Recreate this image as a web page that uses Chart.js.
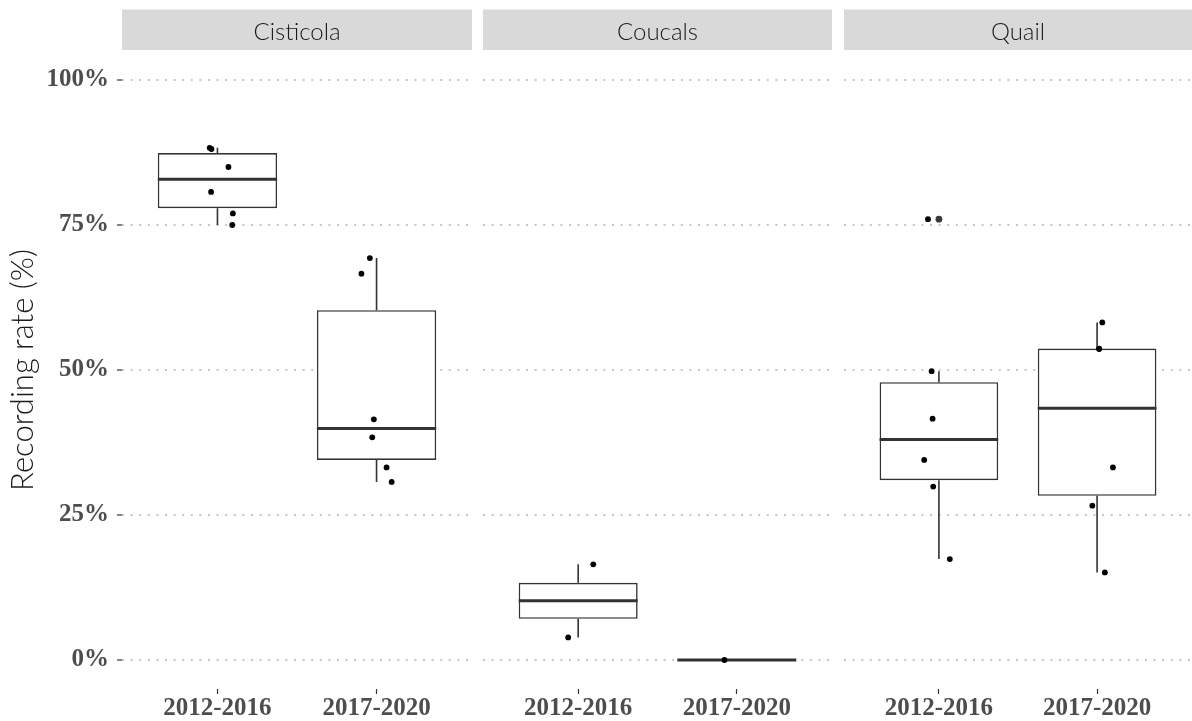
<!DOCTYPE html>
<html><head><meta charset="utf-8">
<script src="https://cdn.jsdelivr.net/npm/chart.js@4.4.1/dist/chart.umd.min.js"></script>
<style>
html,body{margin:0;padding:0;background:#fff;}
#wrap{position:relative;width:1192px;height:721px;overflow:hidden;background:#fff;}
canvas{position:absolute;top:0;}
</style></head><body>
<div id="wrap">
<canvas id="c0" width="472" height="721" style="left:0px"></canvas>
<canvas id="c1" width="349" height="721" style="left:483px"></canvas>
<canvas id="c2" width="348" height="721" style="left:844px"></canvas>
</div>
<script>
// ---- data ----
const panels = ['Cisticola', 'Coucals', 'Quail'];
const periods = ['2012-2016', '2017-2020'];
const yTicks = [0, 25, 50, 75, 100];

// observed recording rates (%) per period
const valsCisticola = [[88.3, 88.1, 85.0, 80.7, 77.0, 75.0], [69.3, 66.6, 41.5, 38.4, 33.2, 30.7]];
const jitCisticola  = [[-0.049, -0.038, 0.069, -0.040, 0.097, 0.093], [-0.042, -0.095, -0.017, -0.027, 0.063, 0.095]];
// [lower whisker, Q1, median, Q3, upper whisker]
const boxCisticola  = [[75.0, 77.9, 82.9, 87.4, 88.3], [30.7, 34.5, 39.9, 60.3, 69.3]];
const outCisticola  = [[], []];

const valsCoucals = [[16.5, 3.9], [0]];
const jitCoucals  = [[0.095, -0.063], [-0.078]];
const boxCoucals  = [[3.9, 7.1, 10.2, 13.3, 16.5], [0, 0, 0, 0, 0]];
const outCoucals  = [[], []];

const valsQuail = [[76.0, 49.8, 41.6, 34.5, 29.9, 17.4], [58.2, 53.7, 53.6, 33.2, 26.6, 15.1]];
const jitQuail  = [[-0.069, -0.046, -0.040, -0.093, -0.036, 0.069], [0.033, 0.013, 0.013, 0.100, -0.030, 0.049]];
const boxQuail  = [[17.4, 31.0, 38.0, 47.9, 49.8], [15.1, 28.3, 43.4, 53.7, 58.2]];
const outQuail  = [[76.0], []];

const panelVals = [valsCisticola, valsCoucals, valsQuail];
const panelJit  = [jitCisticola, jitCoucals, jitQuail];
const panelBox  = [boxCisticola, boxCoucals, boxQuail];
const panelOut  = [outCisticola, outCoucals, outQuail];

// ---- styling ----
const BOX_HALF = 0.375;
const INK = '#333333';
const GRID = '#C6C6C6';
const TICK_FONT = {family: "'Liberation Serif', 'DejaVu Serif', serif", size: 25, weight: 'bold'};

const stripPlugin = {
  id: 'strip',
  beforeDraw(chart, args, opts) {
    const ctx = chart.ctx, a = chart.chartArea;
    ctx.save();
    ctx.fillStyle = '#D9D9D9';
    ctx.fillRect(a.left, 9.5, a.right - a.left, 40.5);
    ctx.fillStyle = '#1A1A1A';
    ctx.font = '300 24px Lato';
    ctx.textAlign = 'center';
    ctx.textBaseline = 'alphabetic';
    ctx.fillText(opts.text, (a.left + a.right) / 2, 40);
    ctx.restore();
  }
};

function buildDatasets(p) {
  const vals = panelVals[p], jit = panelJit[p], box = panelBox[p], out = panelOut[p];
  const pts = [], outs = [], boxes = [], meds = [], whisk = [];
  periods.forEach((per, i) => {
    const x = i + 1;
    vals[i].forEach((v, k) => pts.push({x: x + jit[i][k], y: v}));
    out[i].forEach(v => outs.push({x: x, y: v}));
    const [lo, q1, md, q3, hi] = box[i];
    boxes.push({x: x, y: [q1, q3]});
    meds.push({x: x - BOX_HALF, y: md}, {x: x + BOX_HALF, y: md}, {x: x, y: null});
    whisk.push({x: x, y: lo}, {x: x, y: q1}, {x: x, y: null}, {x: x, y: q3}, {x: x, y: hi}, {x: x, y: null});
  });
  return [
    {type: 'scatter', data: pts, order: 0, pointRadius: 2.9, pointBackgroundColor: '#000', pointBorderWidth: 0, showLine: false},
    {type: 'scatter', data: outs, order: 1, pointRadius: 3.4, pointBackgroundColor: '#3A3A3A', pointBorderWidth: 0, showLine: false},
    {type: 'line', data: meds, order: 2, borderColor: INK, borderWidth: 3, pointRadius: 0, spanGaps: false, fill: false, borderCapStyle: 'butt'},
    {type: 'bar', data: boxes, order: 3, backgroundColor: '#FFFFFF', borderColor: INK, borderWidth: 1.6, borderSkipped: false, barPercentage: 0.75, categoryPercentage: 1, grouped: false},
    {type: 'line', data: whisk, order: 4, borderColor: INK, borderWidth: 1.6, pointRadius: 0, spanGaps: false, fill: false, borderCapStyle: 'butt'}
  ];
}

function makeChart(p) {
  const first = p === 0;
  return new Chart(document.getElementById('c' + p), {
    type: 'bar',
    data: {datasets: buildDatasets(p)},
    plugins: [stripPlugin],
    options: {
      responsive: false,
      animation: false,
      devicePixelRatio: 1,
      events: [],
      layout: {autoPadding: false, padding: {top: 51, bottom: 0, left: 0, right: 0}},
      plugins: {legend: {display: false}, tooltip: {enabled: false}, strip: {text: panels[p]}},
      scales: {
        x: {
          type: 'linear', min: 0.4, max: 2.6, offset: false,
          afterBuildTicks: s => { s.ticks = periods.map((_, i) => ({value: i + 1})); },
          afterFit: s => { s.height = 32; },
          grid: {drawOnChartArea: false, drawTicks: true, tickLength: 5, tickColor: INK, tickWidth: 1.2, offset: false},
          border: {display: false},
          ticks: {
            autoSkip: false, maxRotation: 0, padding: 0, color: '#4D4D4D', font: TICK_FONT,
            callback: v => periods[Math.round(v) - 1]
          }
        },
        y: {
          type: 'linear', min: -5, max: 105,
          afterBuildTicks: s => { s.ticks = yTicks.map(v => ({value: v})); },
          afterFit: s => { s.width = first ? 122 : 0; },
          grid: {color: GRID, lineWidth: 2, borderDash: [2, 6.6], drawTicks: first, tickLength: 5, tickColor: INK, tickWidth: 1.2, tickBorderDash: []},
          border: {display: false, dash: [2, 6.6]},
          ticks: {display: first, padding: 8, color: '#4D4D4D', font: TICK_FONT, callback: v => v + '%'},
          title: {display: first, text: 'Recording rate (%)', color: '#1A1A1A',
                  font: {family: 'Lato', size: 31, weight: '300'}, padding: {top: 4, bottom: 0}}
        }
      }
    }
  });
}

panels.forEach((_, p) => makeChart(p));
</script>
</body></html>
